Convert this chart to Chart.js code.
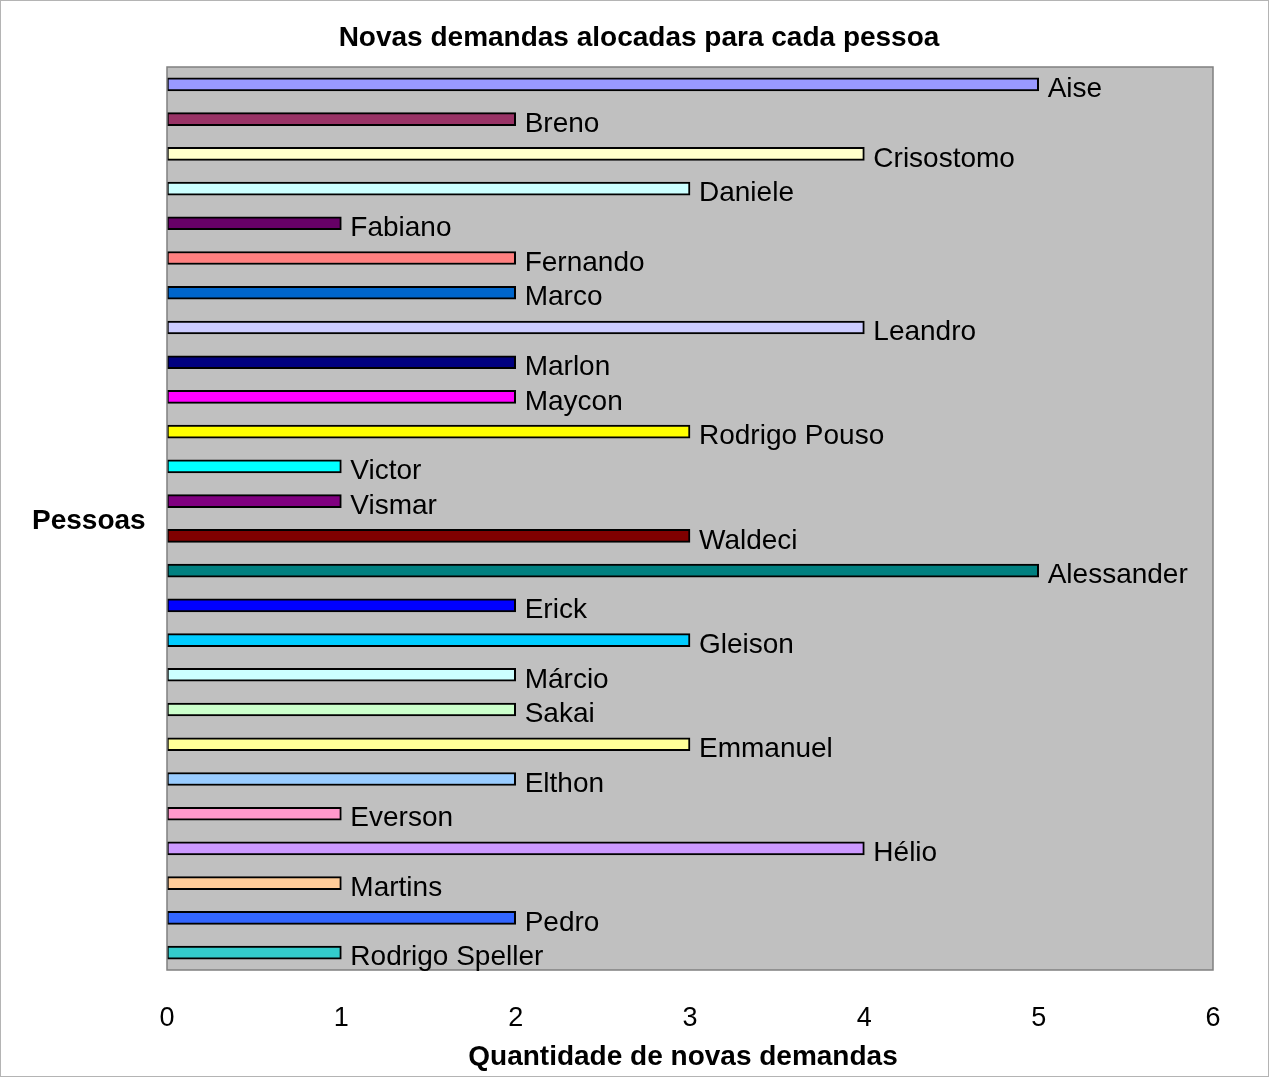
<!DOCTYPE html>
<html>
<head>
<meta charset="utf-8">
<script src="https://cdn.jsdelivr.net/npm/chart.js@4"></script>
<style>
  html, body { margin: 0; padding: 0; background: #ffffff; }
  #box { width: 1269px; height: 1077px; }
</style>
</head>
<body>
<div id="box"><canvas id="grafico"></canvas></div>
<script>
// dados do gráfico
var pessoas = ['Aise', 'Breno', 'Crisostomo', 'Daniele', 'Fabiano', 'Fernando', 'Marco', 'Leandro',
    'Marlon', 'Maycon', 'Rodrigo Pouso', 'Victor', 'Vismar', 'Waldeci', 'Alessander', 'Erick',
    'Gleison', 'Márcio', 'Sakai', 'Emmanuel', 'Elthon', 'Everson', 'Hélio', 'Martins', 'Pedro',
    'Rodrigo Speller'];
var demandas = [5, 2, 4, 3, 1, 2, 2, 4, 2, 2, 3, 1, 1, 3, 5, 2, 3, 2, 2, 3, 2, 1, 4, 1, 2, 1];
var cores = ['#9999ff', '#993366', '#ffffcc', '#ccffff', '#660066', '#ff8080', '#0066cc', '#ccccff',
    '#000080', '#ff00ff', '#ffff00', '#00ffff', '#800080', '#800000', '#008080', '#0000ff',
    '#00ccff', '#ccffff', '#ccffcc', '#ffff99', '#99ccff', '#ff99cc', '#cc99ff', '#ffcc99', '#3366ff',
    '#33cccc'];
var ticksX = [0, 1, 2, 3, 4, 5, 6];

var fonte = 'Liberation Sans, Arial, sans-serif';
var titulo = 'Novas demandas alocadas para cada pessoa';
var tituloX = 'Quantidade de novas demandas';
var tituloY = 'Pessoas';

// fundo cinza da área do gráfico, moldura, títulos e rótulos
var extras = {
    id: 'extras',
    beforeDraw: function (chart) {
        var ctx = chart.ctx, a = chart.chartArea;
        ctx.save();
        ctx.fillStyle = '#ffffff';
        ctx.fillRect(0, 0, chart.width, chart.height);
        ctx.strokeStyle = '#b4b4b4';
        ctx.lineWidth = 1;
        ctx.strokeRect(0.5, 0.5, chart.width - 1, chart.height - 1);
        ctx.fillStyle = '#c0c0c0';
        ctx.fillRect(a.left, a.top, a.right - a.left, a.bottom - a.top);
        ctx.restore();
    },
    afterDatasetsDraw: function (chart) {
        var ctx = chart.ctx, a = chart.chartArea;
        var meta = chart.getDatasetMeta(0);
        ctx.save();
        ctx.strokeStyle = '#808080';
        ctx.lineWidth = 1.5;
        ctx.strokeRect(a.left, a.top, a.right - a.left, a.bottom - a.top);
        ctx.fillStyle = '#000000';
        ctx.font = '28px ' + fonte;
        ctx.textAlign = 'left';
        ctx.textBaseline = 'middle';
        meta.data.forEach(function (bar, i) {
            ctx.fillText(pessoas[i], bar.x + 9, bar.y + 5);
        });
        ctx.font = 'bold 28px ' + fonte;
        ctx.fillText(tituloY, 32, (a.top + a.bottom) / 2 + 3);
        ctx.textAlign = 'center';
        ctx.fillText(titulo, 639, 38);
        ctx.fillText(tituloX, 683, 1057);
        ctx.restore();
    }
};

new Chart(document.getElementById('grafico'), {
    type: 'bar',
    data: {
        labels: pessoas,
        datasets: [{
            data: demandas,
            backgroundColor: cores,
            borderColor: '#000000',
            borderWidth: 2,
            borderSkipped: false,
            barThickness: 13
        }]
    },
    options: {
        indexAxis: 'y',
        responsive: true,
        maintainAspectRatio: false,
        animation: false,
        layout: { padding: { top: 67, right: 56, bottom: 0, left: 0 } },
        plugins: {
            legend: { display: false },
            tooltip: { enabled: false },
            title: { display: false }
        },
        scales: {
            x: {
                min: 0,
                max: 6,
                afterBuildTicks: function (s) {
                    s.ticks = ticksX.map(function (v) { return { value: v }; });
                },
                afterFit: function (s) { s.height = 107; },
                grid: { display: false, drawTicks: false },
                border: { display: false },
                ticks: {
                    color: '#000000',
                    padding: 32,
                    font: { family: fonte, size: 27 },
                    maxRotation: 0
                },
                title: { display: false }
            },
            y: {
                afterFit: function (s) { s.width = 167; },
                grid: { display: false, drawTicks: false },
                border: { display: false },
                ticks: { display: false }
            }
        }
    },
    plugins: [extras]
});
</script>
</body>
</html>
